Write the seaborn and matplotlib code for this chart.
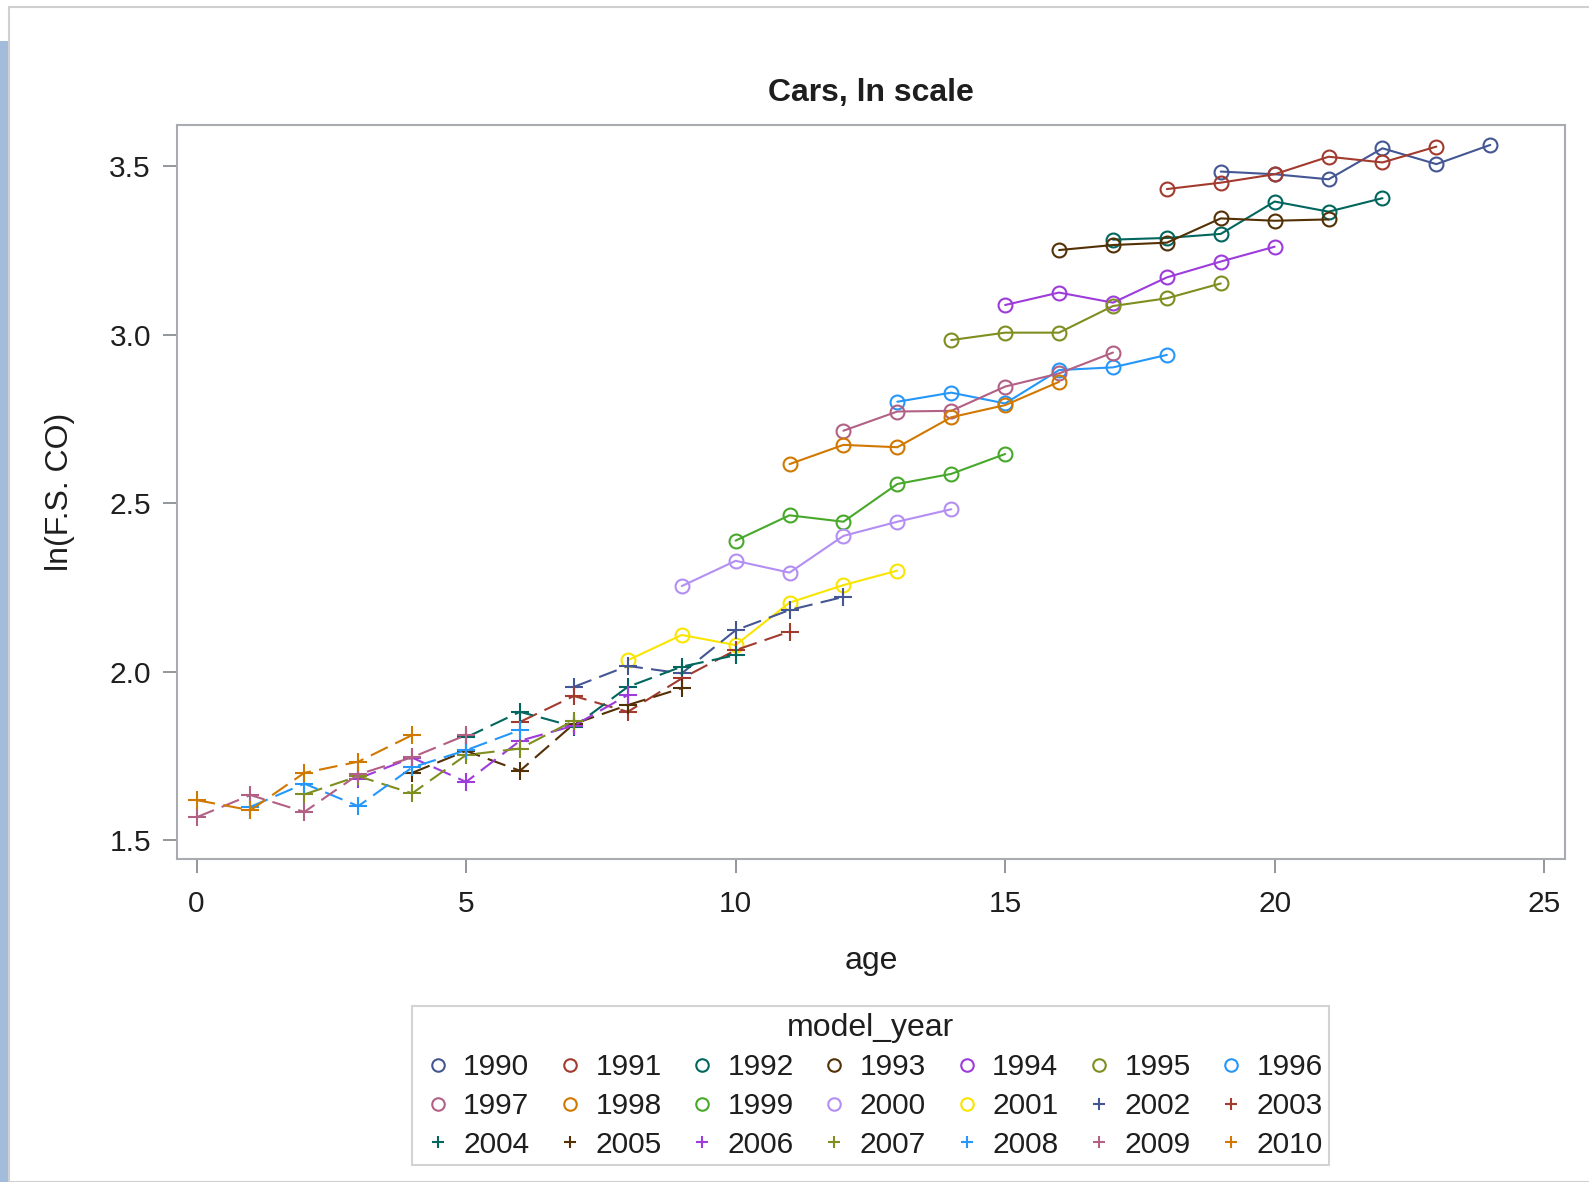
import pandas as pd
import seaborn as sns
import matplotlib.pyplot as plt
from matplotlib.lines import Line2D
from matplotlib.patches import Rectangle

# model years and the age of each one's first observation
model_years = list(range(1990, 2011))
first_age = [19, 18, 17, 16, 15, 14, 13, 12, 11, 10, 9, 8, 7, 6, 5, 4, 3, 2, 1, 0, 0]

# ln(F.S. CO) per model year, one value per age
co_1990 = [3.484, 3.476, 3.461, 3.553, 3.506, 3.563]
co_1991 = [3.432, 3.451, 3.476, 3.528, 3.511, 3.558]
co_1992 = [3.282, 3.287, 3.299, 3.395, 3.365, 3.405]
co_1993 = [3.251, 3.266, 3.273, 3.345, 3.338, 3.342]
co_1994 = [3.088, 3.125, 3.095, 3.170, 3.217, 3.261]
co_1995 = [2.984, 3.006, 3.006, 3.085, 3.108, 3.152]
co_1996 = [2.801, 2.828, 2.796, 2.895, 2.903, 2.940]
co_1997 = [2.715, 2.772, 2.774, 2.846, 2.885, 2.947]
co_1998 = [2.616, 2.673, 2.666, 2.755, 2.791, 2.860]
co_1999 = [2.389, 2.464, 2.445, 2.557, 2.587, 2.646]
co_2000 = [2.254, 2.329, 2.294, 2.403, 2.445, 2.482]
co_2001 = [2.034, 2.109, 2.079, 2.205, 2.257, 2.300]
co_2002 = [1.955, 2.017, 1.995, 2.123, 2.183, 2.222]
co_2003 = [1.851, 1.928, 1.881, 1.980, 2.064, 2.119]
co_2004 = [1.805, 1.881, 1.837, 1.955, 2.015, 2.049]
co_2005 = [1.700, 1.765, 1.706, 1.845, 1.901, 1.951]
co_2006 = [1.683, 1.745, 1.673, 1.795, 1.840, 1.931]
co_2007 = [1.636, 1.690, 1.639, 1.753, 1.772, 1.855]
co_2008 = [1.599, 1.668, 1.601, 1.716, 1.767, 1.827]
co_2009 = [1.568, 1.634, 1.584, 1.695, 1.746, 1.812]
co_2010 = [1.619, 1.589, 1.700, 1.733, 1.812]

series = [co_1990, co_1991, co_1992, co_1993, co_1994, co_1995, co_1996,
          co_1997, co_1998, co_1999, co_2000, co_2001, co_2002, co_2003,
          co_2004, co_2005, co_2006, co_2007, co_2008, co_2009, co_2010]

base_colors = ["#445694", "#A23A2E", "#01665E", "#543005", "#9D3CDB", "#7F8E1F",
               "#2597FA", "#B26084", "#D17800", "#47A82A", "#B38EF3", "#F9E500"]

rows = []
for yr, a0, vals in zip(model_years, first_age, series):
    for i, v in enumerate(vals):
        rows.append({"age": a0 + i, "ln_co": v, "model_year": str(yr)})
df = pd.DataFrame(rows)

names = [str(y) for y in model_years]
palette = {n: base_colors[i % 12] for i, n in enumerate(names)}
markers = {n: ("o" if i < 12 else "+") for i, n in enumerate(names)}
old = names[:12]
new = names[12:]

sns.set_style("white")
plt.rcParams["font.family"] = ["Liberation Sans", "DejaVu Sans"]
txt = "#1e1e1e"

fig = plt.figure(figsize=(15.89, 11.82), dpi=100)
ax = fig.add_axes([0.1116, 0.2729, 0.8731, 0.6216])

# 1990-2001: circles, solid lines
sns.lineplot(data=df[df["model_year"].isin(old)], x="age", y="ln_co",
             hue="model_year", hue_order=old, palette=palette, marker="o",
             markersize=10, linewidth=1.5, legend=False, ax=ax)
# 2002-2010: plus signs, dashed lines
sns.lineplot(data=df[df["model_year"].isin(new)], x="age", y="ln_co",
             hue="model_year", hue_order=new, palette=palette, marker="+",
             markersize=13, linewidth=1.5, linestyle=(0, (9, 4)),
             legend=False, ax=ax)
for line in ax.lines:
    line.set_markeredgecolor(line.get_color())
    line.set_markerfacecolor("none")
    line.set_markeredgewidth(1.5)

ax.set_xlim(-0.357, 25.38)
ax.set_ylim(1.443, 3.623)
ax.set_xticks([0, 5, 10, 15, 20, 25])
ax.set_yticks([1.5, 2.0, 2.5, 3.0, 3.5])
ax.set_yticklabels(["1.5", "2.0", "2.5", "3.0", "3.5"])
ax.tick_params(axis="both", direction="out", length=10, width=1.3, color="#8a8e92",
               labelsize=21.5, labelcolor=txt, left=True, bottom=True)
ax.tick_params(axis="x", pad=12)
ax.tick_params(axis="y", pad=9)
for sp in ax.spines.values():
    sp.set_color("#a8acb0")
    sp.set_linewidth(1.5)

ax.set_xlabel("age", fontsize=23, labelpad=20, color=txt)
ax.set_ylabel("ln(F.S. CO)", fontsize=23, labelpad=25, color=txt)
ax.set_title("Cars, ln scale", fontsize=23, fontweight="bold", pad=17, color=txt)

# legend, filled row by row like the original
handles = [Line2D([], [], linestyle="none", marker=markers[n], markersize=9,
                  markeredgecolor=palette[n], markerfacecolor="none",
                  markeredgewidth=1.5) for n in names]
order = [r * 7 + c for c in range(7) for r in range(3)]
leg = fig.legend([handles[i] for i in order], [names[i] for i in order],
                 ncol=7, title="model_year", loc="lower center",
                 bbox_to_anchor=(0.548, 0.014), borderaxespad=0,
                 fontsize=21.5, title_fontsize=23,
                 frameon=True, fancybox=False, handlelength=1.27, handletextpad=0.22,
                 columnspacing=0.72, labelspacing=0.36, borderpad=0.22)
leg.get_frame().set_edgecolor("#c8c8c8")
leg.get_frame().set_linewidth(1.5)
for t in leg.get_texts():
    t.set_color(txt)
leg.get_title().set_color(txt)

# page chrome: blue side strip and grey frame
fig.patches.append(Rectangle((0, 0), 0.0055, 0.965, transform=fig.transFigure,
                             facecolor="#a3bcdc", edgecolor="none"))
fig.patches.append(Rectangle((0.0055, 0), 1.0, 0.994, transform=fig.transFigure,
                             facecolor="none", edgecolor="#d0d0d0", linewidth=1.5))

fig.savefig("out.png", dpi=100)
